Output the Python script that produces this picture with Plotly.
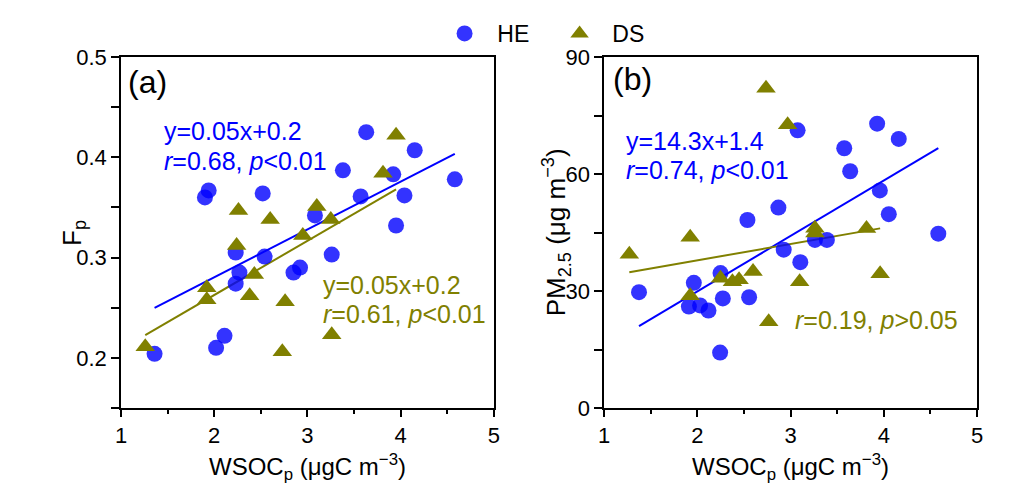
import plotly.graph_objects as go

# ---------------- data ----------------
a_he_x = [1.36, 2.02, 2.11, 1.90, 1.94, 2.52, 2.23, 2.27, 2.23, 2.54, 2.85, 2.92, 3.08, 3.26, 3.38, 3.57, 3.63, 3.92, 3.95, 4.04, 4.15, 4.58]
a_he_y = [0.204, 0.210, 0.222, 0.360, 0.367, 0.364, 0.305, 0.285, 0.274, 0.301, 0.285, 0.290, 0.342, 0.303, 0.387, 0.361, 0.425, 0.383, 0.332, 0.362, 0.407, 0.378]
a_ds_x = [1.26, 1.92, 1.92, 2.26, 2.24, 2.38, 2.43, 2.60, 2.73, 2.76, 2.95, 3.10, 3.25, 3.26, 3.81, 3.95]
a_ds_y = [0.211, 0.270, 0.258, 0.347, 0.312, 0.262, 0.283, 0.338, 0.206, 0.256, 0.322, 0.351, 0.338, 0.223, 0.384, 0.422]

b_he_x = [1.375, 1.963, 1.91, 2.03, 2.12, 2.249, 2.274, 2.245, 2.538, 2.556, 2.87, 2.927, 3.076, 3.105, 3.262, 3.39, 3.576, 3.64, 3.929, 3.958, 4.054, 4.161, 4.585]
b_he_y = [29.7, 32.1, 26.0, 26.3, 25.0, 34.6, 28.1, 14.2, 48.2, 28.4, 51.4, 40.6, 71.2, 37.4, 43.1, 43.1, 66.6, 60.7, 72.9, 55.8, 49.7, 69.0, 44.7]
b_ds_x = [1.271, 1.924, 1.924, 2.249, 2.377, 2.448, 2.598, 2.737, 2.766, 2.969, 3.098, 3.262, 3.262, 3.815, 3.961]
b_ds_y = [39.4, 43.8, 28.8, 33.3, 32.4, 32.9, 35.0, 82.0, 22.1, 72.6, 32.4, 46.1, 44.9, 46.0, 34.4]

# linear fits (slope, intercept)
fit_a_he = (0.0477, 0.185)
fit_a_ds = (0.054, 0.1547)
fit_b_he = (14.22, 1.45)
fit_b_ds = (4.18, 29.5)

x_ticks = [1, 2, 3, 4, 5]
ya_ticks = [0.15, 0.2, 0.25, 0.3, 0.35, 0.4, 0.45, 0.5]
ya_text = ["", "0.2", "", "0.3", "", "0.4", "", "0.5"]
yb_ticks = [0, 15, 30, 45, 60, 75, 90]
yb_text = ["0", "", "30", "", "60", "", "90"]

# ---------------- style ----------------
FONT = "Liberation Sans, Arial, sans-serif"
BLUE = "#0000FF"
BLUE_M = "rgba(0,0,255,0.8)"
OLIVE = "#808000"


def fit_line(xs, coef):
    x0, x1 = min(xs), max(xs)
    return [x0, x1], [coef[0] * x0 + coef[1], coef[0] * x1 + coef[1]]


fig = go.Figure()

panels = [
    (a_he_x, a_he_y, a_ds_x, a_ds_y, fit_a_he, fit_a_ds, "x", "y", True),
    (b_he_x, b_he_y, b_ds_x, b_ds_y, fit_b_he, fit_b_ds, "x2", "y2", False),
]
for hx, hy, dx, dy, fh, fd, xa, ya, show in panels:
    lx, ly = fit_line(hx, fh)
    fig.add_trace(go.Scatter(x=lx, y=ly, mode="lines", line=dict(color=BLUE, width=2),
                             xaxis=xa, yaxis=ya, showlegend=False, hoverinfo="skip"))
    lx, ly = fit_line(dx, fd)
    fig.add_trace(go.Scatter(x=lx, y=ly, mode="lines", line=dict(color=OLIVE, width=2),
                             xaxis=xa, yaxis=ya, showlegend=False, hoverinfo="skip"))
    fig.add_trace(go.Scatter(x=hx, y=hy, mode="markers", name="\u00a0\u00a0HE",
                             marker=dict(symbol="circle", size=16, color=BLUE_M, line=dict(width=0)),
                             xaxis=xa, yaxis=ya, showlegend=show, legendrank=1))
    fig.add_trace(go.Scatter(x=dx, y=dy, mode="markers", name="\u00a0\u00a0DS",
                             marker=dict(symbol="triangle-up", size=17, color=OLIVE, line=dict(width=0)),
                             xaxis=xa, yaxis=ya, showlegend=show, legendrank=2))

axis_common = dict(showline=True, linecolor="black", linewidth=1.5, mirror=True,
                   showgrid=False, zeroline=False, ticks="outside", tickcolor="black",
                   tickwidth=1.5, tickfont=dict(family=FONT, size=22, color="black"))

xcommon = dict(axis_common, range=[1, 5], tickvals=x_ticks, ticklen=7,
               minor=dict(dtick=0.5, tick0=1, ticks="outside", ticklen=4, tickwidth=1.5, tickcolor="black"))

fig.update_layout(
    width=1021, height=498,
    margin=dict(l=121, r=44, t=49, b=90),
    paper_bgcolor="white", plot_bgcolor="white",
    font=dict(family=FONT, size=22, color="black"),
    xaxis=dict(xcommon, domain=[0, 0.4357], anchor="y"),
    yaxis=dict(axis_common, range=[0.15, 0.5], tickvals=ya_ticks, ticktext=ya_text, ticklen=8, anchor="x"),
    xaxis2=dict(xcommon, domain=[0.5643, 1], anchor="y2"),
    yaxis2=dict(axis_common, range=[0, 90], tickvals=yb_ticks, ticktext=yb_text, ticklen=8, anchor="x2"),
    legend=dict(orientation="h", x=0.378, xanchor="left", y=1.067, yanchor="middle",
                font=dict(family=FONT, size=23, color="black"), entrywidth=70,
                bgcolor="rgba(0,0,0,0)", itemsizing="trace"),
    showlegend=True,
)

ann = []
def A(text, x, y, xref, yref, color="black", size=25, xanchor="left", yanchor="middle", angle=0):
    ann.append(dict(text=text, x=x, y=y, xref=xref, yref=yref, showarrow=False,
                    xanchor=xanchor, yanchor=yanchor, textangle=angle,
                    font=dict(family=FONT, size=size, color=color)))

# panel labels
A("(a)", 0.014, 0.928, "x domain", "y domain", size=32)
A("(b)", 0.019, 0.936, "x2 domain", "y2 domain", size=32)
# regression texts
A("y=0.05x+0.2", 0.110, 0.788, "x domain", "y domain", color=BLUE)
A("<i>r</i>=0.68, <i>p</i>&lt;0.01", 0.110, 0.705, "x domain", "y domain", color=BLUE)
A("y=0.05x+0.2", 0.537, 0.351, "x domain", "y domain", color=OLIVE)
A("<i>r</i>=0.61, <i>p</i>&lt;0.01", 0.537, 0.267, "x domain", "y domain", color=OLIVE)
A("y=14.3x+1.4", 0.054, 0.760, "x2 domain", "y2 domain", color=BLUE)
A("<i>r</i>=0.74, <i>p</i>&lt;0.01", 0.054, 0.677, "x2 domain", "y2 domain", color=BLUE)
A("<i>r</i>=0.19, <i>p</i>&gt;0.05", 0.506, 0.251, "x2 domain", "y2 domain", color=OLIVE)
# axis titles
A("WSOC<sub>p</sub> (μgC m<sup>−3</sup>)", 0.5, -0.167, "x domain", "paper", size=24, xanchor="center")
A("WSOC<sub>p</sub> (μgC m<sup>−3</sup>)", 0.5, -0.167, "x2 domain", "paper", size=24, xanchor="center")
A("F<sub>p</sub>", -0.0555, 0.5, "paper", "paper", size=26, xanchor="center", angle=-90)
A("PM<sub>2.5</sub> (μg m<sup>−3</sup>)", 0.508, 0.5, "paper", "paper", size=26, xanchor="center", angle=-90)

fig.update_layout(annotations=ann)
fig.write_html("out.html")
